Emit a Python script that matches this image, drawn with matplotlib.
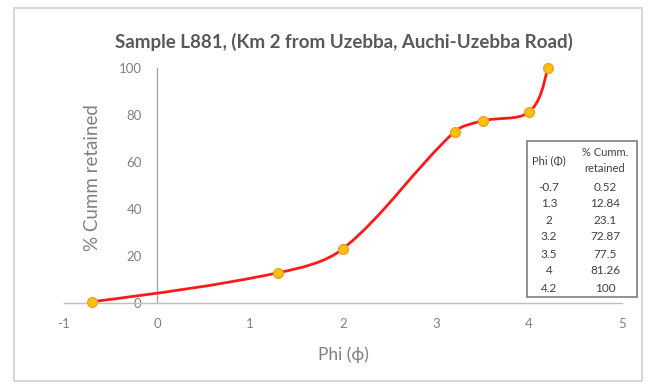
import numpy as np
import matplotlib.pyplot as plt
from matplotlib.path import Path
from matplotlib.patches import PathPatch, Rectangle

phi = [-0.7, 1.3, 2, 3.2, 3.5, 4, 4.2]
cumm = [0.52, 12.84, 23.1, 72.87, 77.5, 81.26, 100]
phi_labels = ['-0.7', '1.3', '2', '3.2', '3.5', '4', '4.2']
cumm_labels = ['0.52', '12.84', '23.1', '72.87', '77.5', '81.26', '100']
x_ticks = [-1, 0, 1, 2, 3, 4, 5]
y_ticks = [0, 20, 40, 60, 80, 100]

plt.rcParams['font.family'] = ['Lato', 'DejaVu Sans']

W, H = 650, 385
def fx(px):
    return px / W
def fy(py):
    return 1 - py / H

fig = plt.figure(figsize=(6.5, 3.85), dpi=100)
ax = fig.add_axes([fx(64), fy(303), 558 / W, 235 / H])
ax.set_xlim(-1, 5)
ax.set_ylim(0, 100)

# smoothed line like Excel: cubic bezier, tangents weighted by chord length
# (worked out in screen space so steep/flat parts don't overshoot)
pts = np.column_stack([phi, cumm])
scr = ax.transData.transform(pts)
n = len(scr)
def ctrl(i, sign):
    # outgoing (sign=+1) or incoming (sign=-1) control point at point i
    if i == 0 or i == n - 1:
        return scr[i]
    d = scr[i + 1] - scr[i - 1]
    lp = np.hypot(*(scr[i] - scr[i - 1]))
    ln = np.hypot(*(scr[i + 1] - scr[i]))
    w = ln if sign > 0 else lp
    return scr[i] + sign * d * w / (lp + ln) / 3.0

verts = [scr[0]]
codes = [Path.MOVETO]
for i in range(n - 1):
    c1 = ctrl(i, 1)
    c2 = ctrl(i + 1, -1)
    if i == 0:
        c1 = scr[0] + (c2 - scr[0]) / 2.0
    if i == n - 2:
        c2 = scr[n - 1] + (c1 - scr[n - 1]) / 2.0
    verts += [c1, c2, scr[i + 1]]
    codes += [Path.CURVE4] * 3
verts = ax.transData.inverted().transform(np.array(verts))
curve = PathPatch(Path(verts, codes), fill=False, edgecolor='#FF1A1A', lw=2.0,
                  transform=ax.transData, clip_on=False, zorder=3)
ax.add_patch(curve)

ax.plot(phi, cumm, ls='none', marker='o', ms=7, mfc='#FFC000', mec='#F0A030',
        mew=1.0, clip_on=False, zorder=4)

ax.set_xticks(x_ticks)
ax.set_yticks(y_ticks)
ax.set_xticklabels([str(t) for t in x_ticks])
ax.set_yticklabels([str(t) for t in y_ticks])

for s in ['top', 'right']:
    ax.spines[s].set_visible(False)
ax.spines['left'].set_position(('data', 0))
ax.spines['left'].set_color('#A6A6A6')
ax.spines['bottom'].set_color('#BFBFBF')
ax.spines['left'].set_linewidth(1.0)
ax.spines['bottom'].set_linewidth(1.0)
ax.tick_params(axis='both', length=0, labelsize=9.5, labelcolor='#808080')
ax.tick_params(axis='x', pad=11)
ax.tick_params(axis='y', pad=11)

ax.set_xlabel('Phi (ϕ)', fontsize=12.5, color='#808080')
ax.xaxis.set_label_coords(0.5, -0.185)
ax.set_ylabel('% Cumm retained', fontsize=13.5, color='#808080')
ax.yaxis.set_label_coords(0.066, 0.535)

fig.text(fx(344), fy(42), 'Sample L881, (Km 2 from Uzebba, Auchi-Uzebba Road)',
         ha='center', va='center', fontsize=13.5, fontweight='bold', color='#595959')

# chart border
fig.patches.append(Rectangle((fx(14), fy(381)), (642 - 14) / W, (381 - 8) / H,
                             transform=fig.transFigure, fill=False,
                             edgecolor='#CFCFCF', lw=1.2))

# inset table
fig.patches.append(Rectangle((fx(527), fy(297)), (637 - 527) / W, (297 - 141) / H,
                             transform=fig.transFigure, fill=True, facecolor='white',
                             edgecolor='#7F7F7F', lw=1.2, zorder=5))
tcol = '#404040'
fig.text(fx(549), fy(161), 'Phi (Φ)', ha='center', va='center', fontsize=8,
         color=tcol, zorder=6)
fig.text(fx(605), fy(152), '% Cumm.', ha='center', va='center', fontsize=8,
         color=tcol, zorder=6)
fig.text(fx(605), fy(169), 'retained', ha='center', va='center', fontsize=8,
         color=tcol, zorder=6)
row_y = [187, 204, 220, 237, 254, 271, 288]
for yy, a, b in zip(row_y, phi_labels, cumm_labels):
    fig.text(fx(549), fy(yy), a, ha='center', va='center', fontsize=8.5,
             color=tcol, zorder=6)
    fig.text(fx(605), fy(yy), b, ha='center', va='center', fontsize=8.5,
             color=tcol, zorder=6)

fig.savefig('out.png', dpi=100)
